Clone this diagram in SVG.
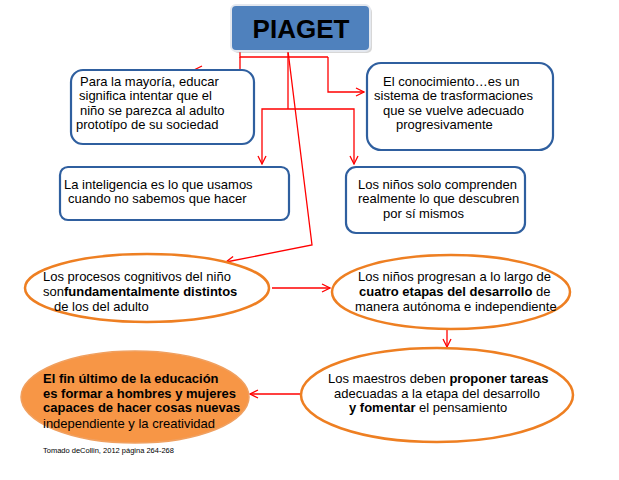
<svg xmlns="http://www.w3.org/2000/svg" width="619" height="480" viewBox="0 0 619 480">
<style>
text{font-family:"Liberation Sans",Arial,sans-serif;font-size:13px;fill:#000}
.b{font-weight:bold}
.box{fill:#fff;stroke:#2f5f9f;stroke-width:2.2}
.ell{fill:#fff;stroke:#ee7f22;stroke-width:2.5}
.c{fill:none;stroke:#ff0000;stroke-width:1.3}
</style>
<defs>
<marker id="a" markerWidth="10" markerHeight="10" refX="9" refY="5" orient="auto" markerUnits="userSpaceOnUse">
<path d="M1,1 L9,5 L1,9" fill="none" stroke="#ff0000" stroke-width="1.3"/>
</marker>
</defs>
<g id="connectors">
<path class="c" d="M240,51 V57 H328"/>
<path class="c" d="M240,57 V70 H194" marker-end="url(#a)"/>
<path class="c" d="M328,57 V92 H364" marker-end="url(#a)"/>
<path class="c" d="M288,51 V109"/>
<path class="c" d="M288,109 H262 V164" marker-end="url(#a)"/>
<path class="c" d="M288,109 H354 V164" marker-end="url(#a)"/>
<path class="c" d="M288,51 L312,245 L226,262" marker-end="url(#a)"/>
<path class="c" d="M272,288 H330" marker-end="url(#a)"/>
<path class="c" d="M447,329 V347" marker-end="url(#a)"/>
<path class="c" d="M302,394 H250" marker-end="url(#a)"/>
</g>
<g id="piaget">
<rect x="233" y="7" width="139" height="46" rx="5" fill="#9a9a9a" opacity="0.4"/>
<rect x="231" y="5" width="139" height="46" rx="5" fill="#4f81bd" stroke="#e4e8ef" stroke-width="2"/>
<text x="301" y="38" text-anchor="middle" class="b" style="font-size:26px">PIAGET</text>
</g>
<g id="box1">
<rect class="box" x="71" y="70" width="183" height="74" rx="12"/>
<text x="80" y="86">Para la mayoría, educar</text>
<text x="79" y="100">significa intentar que el</text>
<text x="80" y="115">niño se parezca al adulto</text>
<text x="76" y="129">prototípo de su sociedad</text>
</g>
<g id="box2">
<rect class="box" x="367" y="63" width="186" height="87" rx="14"/>
<text x="383" y="86">El conocimiento…es un</text>
<text x="374" y="100">sistema de trasformaciones</text>
<text x="383" y="115">que se vuelve adecuado</text>
<text x="396" y="129">progresivamente</text>
</g>
<g id="box3">
<rect class="box" x="60" y="167" width="229" height="53" rx="8"/>
<text x="64" y="189">La inteligencia es lo que usamos</text>
<text x="68" y="203">cuando no sabemos que hacer</text>
</g>
<g id="box4">
<rect class="box" x="346" y="167" width="179" height="66" rx="10"/>
<text x="358" y="189">Los niños solo comprenden</text>
<text x="358" y="203">realmente lo que descubren</text>
<text x="383" y="218">por sí mismos</text>
</g>
<g id="ell1">
<ellipse class="ell" cx="147" cy="288" rx="122" ry="34"/>
<text x="43" y="281">Los procesos cognitivos del niño</text>
<text x="43" y="296">son<tspan class="b">fundamentalmente distintos</tspan></text>
<text x="54" y="311">de los del adulto</text>
</g>
<g id="ell2">
<ellipse class="ell" cx="451" cy="292" rx="119" ry="37"/>
<text x="358" y="281">Los niños progresan a lo largo de</text>
<text x="359" y="296"><tspan class="b">cuatro etapas del desarrollo</tspan> de</text>
<text x="355" y="311">manera autónoma e independiente</text>
</g>
<g id="ell3">
<ellipse class="ell" cx="437" cy="395" rx="136" ry="47"/>
<text x="328" y="383">Los maestros deben <tspan class="b">proponer tareas</tspan></text>
<text x="334" y="398">adecuadas a la etapa del desarrollo</text>
<text x="349" y="412"><tspan class="b">y fomentar</tspan> el pensamiento</text>
</g>
<g id="ell4">
<ellipse cx="135" cy="397" rx="114" ry="46" fill="#f79646" stroke="#f0a060" stroke-width="1.5"/>
<text x="43" y="383" class="b">El fin último de la educación</text>
<text x="43" y="398" class="b">es formar a hombres y mujeres</text>
<text x="43" y="412" class="b">capaces de hacer cosas nuevas</text>
<text x="43" y="428">independiente y la creatividad</text>
</g>
<text x="43" y="453" style="font-size:7.5px">Tomado deCollin, 2012 página 264-268</text>
</svg>
